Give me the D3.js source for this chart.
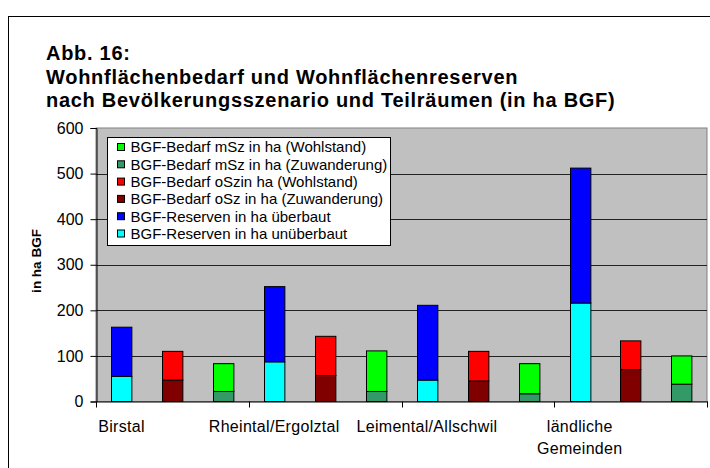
<!DOCTYPE html>
<html>
<head>
<meta charset="utf-8">
<script src="https://cdn.jsdelivr.net/npm/d3@7"></script>
<style>
  html, body { margin: 0; padding: 0; background: #fff; }
  svg { display: block; font-family: "Liberation Sans", Arial, sans-serif; }
</style>
</head>
<body>
<svg id="chart" width="710" height="468"></svg>
<script>
// ---------- data ----------
const regions = ["Birstal", "Rheintal/Ergolztal", "Leimental/Allschwil", "ländliche Gemeinden"];
const barTypes = ["Reserven", "oSz", "mSz"];
const tickLabels = [["Birstal"], ["Rheintal/Ergolztal"], ["Leimental/Allschwil"], ["ländliche", "Gemeinden"]];
const yTicks = [0, 100, 200, 300, 400, 500, 600];

// segment values per slot (region x barType), stacked bottom to top
const reserveUnbuilt  = [55, 0, 0, 87, 0, 0, 47, 0, 0, 216, 0, 0];   // BGF-Reserven in ha unüberbaut
const reserveBuilt    = [108, 0, 0, 165, 0, 0, 164, 0, 0, 296, 0, 0]; // BGF-Reserven in ha überbaut
const oSzImmigration  = [0, 47, 0, 0, 57, 0, 0, 45, 0, 0, 70, 0];    // BGF-Bedarf oSz in ha (Zuwanderung)
const oSzWealth       = [0, 63, 0, 0, 86, 0, 0, 65, 0, 0, 63, 0];    // BGF-Bedarf oSzin ha (Wohlstand)
const mSzImmigration  = [0, 0, 22, 0, 0, 22, 0, 0, 17, 0, 0, 38];    // BGF-Bedarf mSz in ha (Zuwanderung)
const mSzWealth       = [0, 0, 61, 0, 0, 89, 0, 0, 66, 0, 0, 62];    // BGF-Bedarf mSz in ha (Wohlstand)

const seriesKeys = ["unbuilt", "built", "oszZ", "oszW", "mszZ", "mszW"];
const seriesNames = {
  mszW: "BGF-Bedarf mSz in ha (Wohlstand)",
  mszZ: "BGF-Bedarf mSz in ha (Zuwanderung)",
  oszW: "BGF-Bedarf oSzin ha (Wohlstand)",
  oszZ: "BGF-Bedarf oSz in ha (Zuwanderung)",
  built: "BGF-Reserven in ha überbaut",
  unbuilt: "BGF-Reserven in ha unüberbaut"
};
const seriesColors = {
  mszW: "#00ff00", mszZ: "#339966", oszW: "#ff0000",
  oszZ: "#800000", built: "#0000ff", unbuilt: "#00ffff"
};
const legendOrder = ["mszW", "mszZ", "oszW", "oszZ", "built", "unbuilt"];

// ---------- build table ----------
const slots = [];
regions.forEach(r => barTypes.forEach(t => slots.push(r + "|" + t)));
const table = slots.map((s, i) => ({
  slot: s,
  unbuilt: reserveUnbuilt[i], built: reserveBuilt[i],
  oszZ: oSzImmigration[i], oszW: oSzWealth[i],
  mszZ: mSzImmigration[i], mszW: mSzWealth[i]
}));

// ---------- layout ----------
const svg = d3.select("#chart");
const plot = { left: 96, right: 707, top: 128, bottom: 401.5 };

// outer frame
svg.append("rect").attr("x", 8.5).attr("y", 16.5).attr("width", 720).attr("height", 470)
  .attr("fill", "none").attr("stroke", "#000").attr("stroke-width", 1);

// title
const titleLines = ["Abb. 16:", "Wohnflächenbedarf und Wohnflächenreserven",
  "nach Bevölkerungsszenario und Teilräumen (in ha BGF)"];
svg.append("g").selectAll("text").data(titleLines).join("text")
  .attr("x", 46).attr("y", (d, i) => 60 + i * 23.6)
  .attr("font-size", 20).attr("font-weight", "bold").attr("letter-spacing", 0.72)
  .attr("fill", "#000")
  .text(d => d);

const x = d3.scaleBand().domain(slots).range([plot.left, plot.right])
  .paddingInner(0.6).paddingOuter(0.3);
const y = d3.scaleLinear().domain([0, 600]).range([plot.bottom, plot.top]);

// plot background
svg.append("rect").attr("x", plot.left).attr("y", plot.top)
  .attr("width", plot.right - plot.left).attr("height", plot.bottom - plot.top)
  .attr("fill", "#c0c0c0").attr("stroke", "#808080").attr("stroke-width", 1);

// gridlines
svg.append("g").selectAll("line").data(yTicks.filter(v => v > 0 && v < 600)).join("line")
  .attr("x1", plot.left).attr("x2", plot.right)
  .attr("y1", d => Math.round(y(d)) + 0.5).attr("y2", d => Math.round(y(d)) + 0.5)
  .attr("stroke", "#222").attr("stroke-width", 1);

// bars
const stack = d3.stack().keys(seriesKeys)(table);
svg.append("g").selectAll("g").data(stack).join("g")
  .attr("fill", d => seriesColors[d.key])
  .selectAll("rect").data(d => d.filter(p => p[1] - p[0] > 0)).join("rect")
  .attr("x", d => Math.round(x(d.data.slot)) + 0.5)
  .attr("y", d => y(d[1]))
  .attr("width", x.bandwidth())
  .attr("height", d => y(d[0]) - y(d[1]))
  .attr("stroke", "#000").attr("stroke-width", 1);

// y axis
const yAxis = svg.append("g").attr("transform", `translate(${plot.left + 0.5},0)`)
  .call(d3.axisLeft(y).tickValues(yTicks).tickSize(6).tickPadding(7).tickFormat(d3.format("d")));
yAxis.select(".domain").attr("stroke", "#000");
yAxis.selectAll(".tick line").attr("stroke", "#000");
yAxis.selectAll("text").attr("font-size", 16).attr("font-family", "Liberation Sans, Arial, sans-serif").attr("fill", "#000");

// x axis
const xg = svg.append("g");
xg.append("line").attr("x1", plot.left).attr("x2", plot.right + 1)
  .attr("y1", plot.bottom + 0.5).attr("y2", plot.bottom + 0.5).attr("stroke", "#000");
const boundaries = d3.range(0, slots.length + 1, 3).map(i => x.range()[0] + i * x.step());
xg.selectAll(".xt").data(boundaries).join("line").attr("class", "xt")
  .attr("x1", d => Math.round(d) + 0.5).attr("x2", d => Math.round(d) + 0.5)
  .attr("y1", plot.bottom).attr("y2", plot.bottom + 6).attr("stroke", "#000");
const labelSlots = regions.map(r => r + "|" + barTypes[0]);
xg.selectAll(".xl").data(tickLabels).join("text").attr("class", "xl")
  .attr("text-anchor", "middle").attr("font-size", 16).attr("letter-spacing", 0.3).attr("fill", "#000")
  .attr("transform", (d, i) => `translate(${x(labelSlots[i]) + x.bandwidth() / 2},432)`)
  .selectAll("tspan").data(d => d).join("tspan")
  .attr("x", 0).attr("dy", (d, i) => i === 0 ? 0 : 21.5).text(d => d);

// y axis title
svg.append("text").attr("transform", "translate(41,261) rotate(-90)")
  .attr("text-anchor", "middle").attr("font-size", 13.5).attr("font-weight", "bold")
  .text("in ha BGF");

// legend
const lg = svg.append("g");
lg.append("rect").attr("x", 107.5).attr("y", 137.5).attr("width", 283).attr("height", 108)
  .attr("fill", "#fff").attr("stroke", "#000").attr("stroke-width", 1);
const rows = lg.selectAll(".row").data(legendOrder).join("g").attr("class", "row")
  .attr("transform", (d, i) => `translate(0,${147 + i * 17.3})`);
rows.append("rect").attr("x", 117.5).attr("y", -3.5).attr("width", 7).attr("height", 7)
  .attr("fill", d => seriesColors[d]).attr("stroke", "#000").attr("stroke-width", 1);
rows.append("text").attr("x", 130.5).attr("y", 5.3).attr("font-size", 15).attr("fill", "#000")
  .text(d => seriesNames[d]);
</script>
</body>
</html>
